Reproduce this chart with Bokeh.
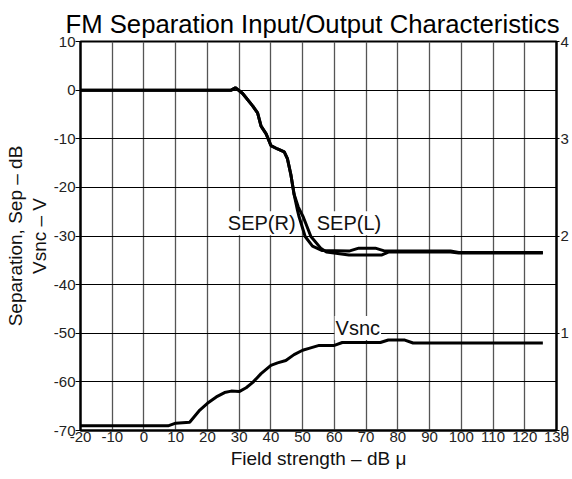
from bokeh.plotting import figure
from bokeh.models import Range1d, LinearAxis, FixedTicker
from bokeh.core.properties import value
from bokeh.embed import file_html
from bokeh.resources import INLINE

FONT = "Liberation Sans"

TITLE = "FM Separation Input/Output Characteristics"
X_LABEL = "Field strength – dB μ"
Y_LABEL_OUTER = "Separation, Sep – dB"
Y_LABEL_INNER = "Vsnc – V"

x_ticks = [-20, -10, 0, 10, 20, 30, 40, 50, 60, 70, 80, 90, 100, 110, 120, 130]
y_ticks_db = [-70, -60, -50, -40, -30, -20, -10, 0, 10]
y_ticks_v = [0, 1, 2, 3, 4]

# SEP(R) in dB
sep_r_x = [-20, 27.5, 28.8, 31.1, 34.3, 35.8, 36.9, 38.5, 40.0, 42.1, 44.2, 45.2, 46.3, 47.3,
           48.4, 48.9, 50.8, 53.1, 56.2, 64.6, 67.7, 72.9, 76.0, 96.6, 99.2, 125.7]
sep_r_y = [0, 0, 0.5, -0.7, -3.3, -4.7, -7.4, -9.0, -11.4, -12.1, -12.7, -14.1, -17.4, -21.4,
           -24.8, -26.1, -30.1, -32.1, -33.0, -33.1, -32.5, -32.5, -33.1, -33.1, -33.4, -33.4]

# SEP(L) in dB
sep_l_x = [-20, 27.5, 28.8, 31.1, 34.3, 35.8, 36.9, 38.5, 40.0, 42.1, 44.2, 45.2, 46.3, 47.3,
           48.6, 50.2, 52.6, 55.7, 57.5, 64.6, 75.0, 77.0, 96.6, 99.2, 125.7]
sep_l_y = [0, 0, 0.5, -0.7, -3.3, -4.7, -7.4, -9.0, -11.4, -12.1, -12.7, -14.1, -17.4, -21.4,
           -24.0, -26.1, -30.1, -32.5, -33.3, -33.9, -33.9, -33.3, -33.3, -33.5, -33.5]

# Vsnc in volts (right axis)
vsnc_x = [-20, 7.6, 10, 14.4, 17.6, 20, 22.8, 25.4, 27.5, 30, 32.2, 34.3, 36.9, 40, 42.1, 44.7,
          47.3, 50, 52, 55.2, 60, 62.5, 74.5, 77, 82.2, 84.8, 125.7]
vsnc_v = [0.048, 0.048, 0.075, 0.085, 0.21, 0.28, 0.345, 0.39, 0.405, 0.40, 0.44, 0.495, 0.585,
          0.67, 0.695, 0.72, 0.78, 0.825, 0.845, 0.875, 0.875, 0.905, 0.905, 0.93, 0.93, 0.90, 0.90]

label_text = ["SEP(R)", "SEP(L)", "Vsnc"]
label_x = [37.1, 64.6, 67.4]
label_y = [-27.4, -27.4, -48.9]

p = figure(frame_width=476, frame_height=389, output_backend="svg", toolbar_location=None,
           x_range=Range1d(-20, 130), y_range=Range1d(-70, 10),
           min_border_left=80, min_border_right=14, min_border_top=41, min_border_bottom=45)
p.extra_y_ranges = {"v": Range1d(0, 4)}

p.title.text = TITLE
p.title.text_font = FONT
p.title.text_font_size = "25.7px"
p.title.text_font_style = "normal"
p.title.text_color = "black"
p.title.align = "right"
p.title.offset = -3
p.title.standoff = 8

p.outline_line_color = "black"
p.outline_line_width = 2

p.xgrid.ticker = FixedTicker(ticks=x_ticks)
p.xgrid.grid_line_color = "#555555"
p.xgrid.grid_line_width = 1.3
p.ygrid.ticker = FixedTicker(ticks=y_ticks_db)
p.ygrid.grid_line_color = "black"
p.ygrid.grid_line_width = 1

xa = p.xaxis[0]
xa.ticker = FixedTicker(ticks=x_ticks)
xa.axis_label = X_LABEL
xa.major_label_overrides = {t: str(t) for t in x_ticks}
ya = p.yaxis[0]
ya.ticker = FixedTicker(ticks=y_ticks_db)
ya.axis_label = Y_LABEL_INNER
ya.major_label_overrides = {t: str(t) for t in y_ticks_db}

ya2 = LinearAxis(ticker=FixedTicker(ticks=[]), axis_label=Y_LABEL_OUTER)
p.add_layout(ya2, "left")

ra = LinearAxis(y_range_name="v", ticker=FixedTicker(ticks=y_ticks_v))
ra.major_label_overrides = {t: str(t) for t in y_ticks_v}
p.add_layout(ra, "right")

for ax in (xa, ya, ra, ya2):
    ax.axis_line_color = "black"
    ax.axis_line_width = 2
    ax.major_tick_in = 0
    ax.major_tick_line_color = "black"
    ax.minor_tick_line_color = None
    ax.major_label_text_font = FONT
    ax.major_label_text_font_size = "15px"
    ax.major_label_text_color = "#222222"
    ax.axis_label_text_font = FONT
    ax.axis_label_text_font_size = "19px"
    ax.axis_label_text_font_style = "normal"
    ax.axis_label_text_color = "#111111"
    ax.major_label_standoff = 1
    ax.axis_label_standoff = 3
xa.major_tick_out = 0
ya.major_tick_out = 5
ya.major_label_standoff = 0
ya.axis_label_standoff = 1
ra.major_tick_out = 3
ya2.axis_line_color = None
ya2.major_tick_out = 0
ya2.major_label_standoff = 0
ya2.axis_label_standoff = 0
ya2.major_label_text_font_size = "0px"

p.text(x=label_x, y=label_y, text=label_text, text_font=value(FONT), text_font_size="20px",
       text_align="center", text_baseline="middle", text_color="#111111",
       background_fill_color="white", padding=1)

p.line(sep_r_x, sep_r_y, line_color="black", line_width=3)
p.line(sep_l_x, sep_l_y, line_color="black", line_width=3)
p.line(vsnc_x, vsnc_v, y_range_name="v", line_color="black", line_width=3)

open("out.html", "w").write(file_html(p, INLINE))
